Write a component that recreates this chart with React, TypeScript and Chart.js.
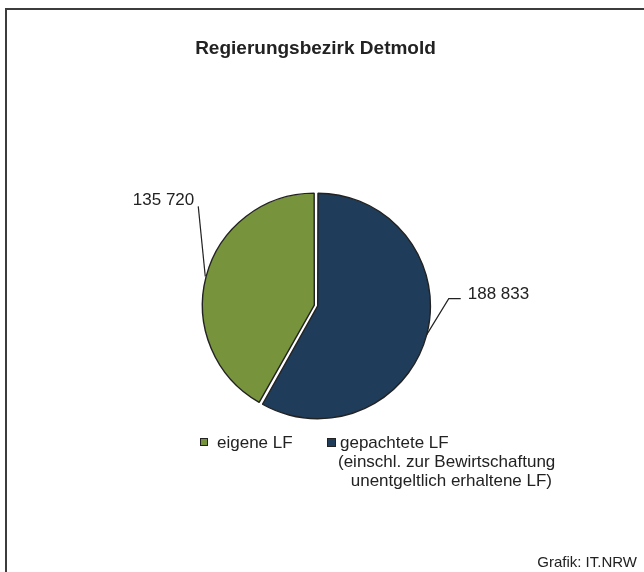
import React, { useEffect, useRef } from "react";
import { Chart, registerables } from "chart.js";

Chart.register(...registerables);

// ---- data ----
const categories = ["eigene LF", "gepachtete LF"];
const legendLines: string[][] = [
  ["eigene LF"],
  ["gepachtete LF", "(einschl. zur Bewirtschaftung", " unentgeltlich erhaltene LF)"],
];
const values = [135720, 188833];
const colors = ["#77933C", "#1F3D5B"];
const titleText = "Regierungsbezirk Detmold";
const creditText = "Grafik: IT.NRW";

const FONT = "'Liberation Sans', Arial, Helvetica, sans-serif";
const TEXT = "#222222";

const fmt = (v: number) => String(v).replace(/\B(?=(\d{3})+(?!\d))/g, " ");

const total = values.reduce((a, b) => a + b, 0);
const rotationDeg = -(values[0] / total) * 360;

const decorPlugin = {
  id: "decor",
  afterDatasetsDraw(chart: any) {
    const ctx: CanvasRenderingContext2D = chart.ctx;
    ctx.save();

    // frame
    ctx.strokeStyle = "#3c3c3c";
    ctx.lineWidth = 2;
    ctx.strokeRect(6, 9, 800, 800);

    // title
    ctx.fillStyle = TEXT;
    ctx.font = `bold 19px ${FONT}`;
    ctx.textAlign = "center";
    ctx.textBaseline = "alphabetic";
    ctx.fillText(titleText, 315.5, 54);

    // leader lines + value labels
    const meta = chart.getDatasetMeta(0);
    const layout = [
      { dx: -7, dy: -70, hx: 0, tdx: -4, tdy: -1, align: "right" as CanvasTextAlign },
      { dx: 22, dy: -36, hx: 12, tdx: 7, tdy: 0, align: "left" as CanvasTextAlign },
    ];
    ctx.font = `17px ${FONT}`;
    ctx.strokeStyle = "#222";
    ctx.lineWidth = 1.2;
    meta.data.forEach((arc: any, i: number) => {
      const mid = (arc.startAngle + arc.endAngle) / 2;
      const off = (arc.options.offset || 0) / 2;
      const r = arc.outerRadius + off;
      const ex = arc.x + Math.cos(mid) * r;
      const ey = arc.y + Math.sin(mid) * r;
      const L = layout[i];
      const bx = ex + L.dx;
      const by = ey + L.dy;
      const hx = bx + L.hx;
      ctx.beginPath();
      ctx.moveTo(ex, ey);
      ctx.lineTo(bx, by);
      if (L.hx) ctx.lineTo(hx, by);
      ctx.stroke();
      ctx.textAlign = L.align;
      ctx.fillStyle = TEXT;
      ctx.fillText(fmt(values[i]), hx + L.tdx, by + L.tdy);
    });

    // legend
    const legendPos = [
      { sx: 200, sy: 438, size: 8, tx: [217], ty: 448 },
      { sx: 327, sy: 438, size: 9, tx: [340, 338, 346], ty: 448 },
    ];
    ctx.font = `17px ${FONT}`;
    ctx.textAlign = "left";
    legendLines.forEach((lines, i) => {
      const p = legendPos[i];
      ctx.fillStyle = colors[i];
      ctx.fillRect(p.sx, p.sy, p.size, p.size);
      ctx.strokeStyle = "#222";
      ctx.lineWidth = 1;
      ctx.strokeRect(p.sx + 0.5, p.sy + 0.5, p.size - 1, p.size - 1);
      ctx.fillStyle = TEXT;
      lines.forEach((ln, j) => {
        ctx.fillText(ln, p.tx[Math.min(j, p.tx.length - 1)], p.ty + j * 19);
      });
    });

    // credit
    ctx.font = `15px ${FONT}`;
    ctx.textAlign = "right";
    ctx.fillStyle = TEXT;
    ctx.fillText(creditText, 637, 567);

    ctx.restore();
  },
};

export default function App() {
  const ref = useRef<HTMLCanvasElement | null>(null);

  useEffect(() => {
    if (!ref.current) return;
    const chart = new Chart(ref.current, {
      type: "pie",
      data: {
        labels: categories,
        datasets: [
          {
            data: values,
            backgroundColor: colors,
            borderColor: "#222222",
            borderWidth: 1.4,
            offset: 7,
          },
        ],
      },
      options: {
        responsive: false,
        maintainAspectRatio: false,
        devicePixelRatio: 1,
        animation: false,
        rotation: rotationDeg,
        radius: 111,
        layout: { padding: { left: 0, right: 12, top: 39, bottom: 0 } },
        plugins: {
          legend: { display: false },
          title: { display: false },
          tooltip: { enabled: false },
        },
        events: [],
      },
      plugins: [decorPlugin],
    });
    return () => chart.destroy();
  }, []);

  return (
    <div style={{ position: "fixed", left: 0, top: 0, width: 644, height: 572, background: "#fff" }}>
      <canvas ref={ref} width={644} height={572} style={{ display: "block" }} />
    </div>
  );
}
